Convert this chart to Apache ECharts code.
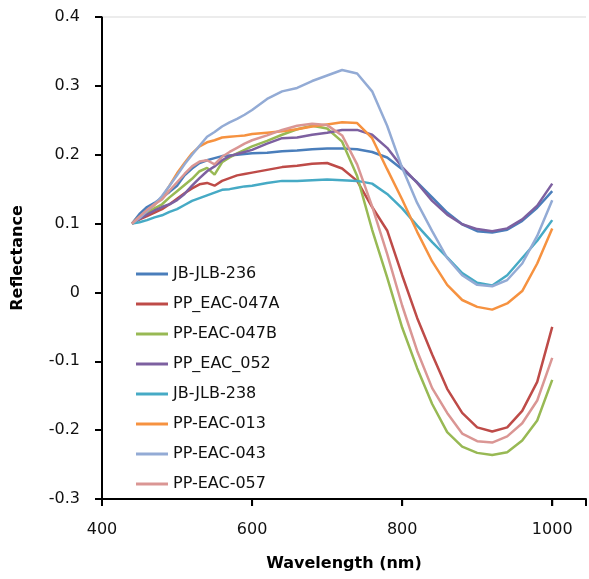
<!DOCTYPE html>
<html>
<head>
<meta charset="utf-8">
<script src="https://cdn.jsdelivr.net/npm/echarts@6/dist/echarts.min.js"></script>
<style>html,body{margin:0;padding:0;background:#fff}#chart{width:589px;height:579px}</style>
</head>
<body>
<div id="chart"></div>
<script>
const wavelength = [440,450,460,470,480,490,500,510,520,530,540,550,560,570,580,590,600,
  620,640,660,680,700,720,740,760,780,800,820,840,860,880,900,920,940,960,980,1000];

const seriesNames = ['JB-JLB-236','PP_EAC-047A','PP-EAC-047B','PP_EAC_052','JB-JLB-238','PP-EAC-013','PP-EAC-043','PP-EAC-057'];

const jbJlb236 = [0.100,0.114,0.124,0.130,0.138,0.146,0.155,0.170,0.180,0.188,0.192,0.195,0.198,0.199,0.200,0.201,0.202,
  0.203,0.205,0.206,0.208,0.209,0.209,0.208,0.204,0.196,0.179,0.160,0.138,0.116,0.099,0.089,0.087,0.091,0.104,0.123,0.147];
const ppEac047A = [0.100,0.106,0.111,0.116,0.121,0.128,0.136,0.144,0.151,0.157,0.159,0.155,0.162,0.166,0.170,0.172,0.174,
  0.178,0.182,0.184,0.187,0.188,0.180,0.162,0.124,0.090,0.025,-0.037,-0.090,-0.140,-0.175,-0.196,-0.202,-0.196,-0.172,-0.130,-0.050];
const ppEac047B = [0.100,0.108,0.115,0.122,0.128,0.138,0.147,0.156,0.165,0.176,0.181,0.171,0.189,0.196,0.202,0.207,0.212,
  0.220,0.229,0.237,0.242,0.238,0.219,0.169,0.091,0.022,-0.051,-0.110,-0.162,-0.203,-0.224,-0.233,-0.236,-0.232,-0.215,-0.186,-0.127];
const ppEac052 = [0.100,0.107,0.113,0.119,0.124,0.128,0.134,0.143,0.155,0.166,0.176,0.183,0.192,0.198,0.201,0.204,0.207,
  0.216,0.224,0.225,0.229,0.232,0.236,0.236,0.229,0.210,0.182,0.159,0.133,0.113,0.099,0.092,0.089,0.093,0.106,0.126,0.158];
const jbJlb238 = [0.100,0.102,0.105,0.109,0.112,0.117,0.121,0.127,0.133,0.137,0.141,0.145,0.149,0.150,0.152,0.154,0.155,
  0.159,0.162,0.162,0.163,0.164,0.163,0.162,0.158,0.143,0.122,0.097,0.073,0.051,0.028,0.014,0.010,0.025,0.050,0.075,0.105];
const ppEac013 = [0.100,0.110,0.118,0.127,0.138,0.155,0.173,0.188,0.202,0.212,0.218,0.221,0.225,0.226,0.227,0.228,0.230,
  0.232,0.234,0.237,0.241,0.244,0.247,0.246,0.224,0.179,0.135,0.088,0.045,0.011,-0.011,-0.021,-0.025,-0.016,0.002,0.042,0.093];
const ppEac043 = [0.100,0.108,0.118,0.128,0.140,0.155,0.170,0.186,0.200,0.213,0.226,0.233,0.241,0.247,0.252,0.258,0.265,
  0.281,0.292,0.297,0.307,0.315,0.323,0.318,0.292,0.242,0.181,0.130,0.089,0.050,0.025,0.011,0.009,0.018,0.042,0.082,0.134];
const ppEac057 = [0.100,0.110,0.120,0.128,0.135,0.148,0.160,0.172,0.183,0.190,0.192,0.186,0.197,0.204,0.210,0.216,0.221,
  0.228,0.236,0.242,0.245,0.243,0.228,0.186,0.125,0.056,-0.019,-0.085,-0.139,-0.175,-0.205,-0.216,-0.218,-0.209,-0.190,-0.157,-0.095];

const xTicks = [400, 600, 800, 1000];
const yTicks = [-0.3, -0.2, -0.1, 0, 0.1, 0.2, 0.3, 0.4];

const seriesValues = [jbJlb236, ppEac047A, ppEac047B, ppEac052, jbJlb238, ppEac013, ppEac043, ppEac057];
const colors = ['#4A7EBB','#BE4B48','#98B954','#7D60A0','#46AAC5','#F69240','#93ABD5','#DA9694'];

const X_MIN = 400, X_MAX = 1045, Y_MIN = -0.3, Y_MAX = 0.4;
const GRID = {left: 102, top: 17, right: 0, bottom: 80};
const W = 589, H = 579;
// tick length of 7 px expressed in each axis's units
const xPerPx = (X_MAX - X_MIN) / (W - GRID.left - GRID.right);
const yPerPx = (Y_MAX - Y_MIN) / (H - GRID.top - GRID.bottom);
const xTickLen = 7 * xPerPx, yTickLen = 7 * yPerPx;

// axis frame built as line series on the chart's own axes
const frameLines = [
  {color: '#d9d9d9', width: 1, data: [[X_MIN, Y_MAX], [X_MAX, Y_MAX]]},
  {color: '#000', width: 2, data: [[X_MIN, Y_MIN], [X_MAX, Y_MIN]]},
  {color: '#000', width: 2, data: [[X_MIN, Y_MIN], [X_MIN, Y_MAX]]}
];
const tickData = [];
yTicks.forEach(t => { tickData.push([X_MIN - xTickLen, t], [X_MIN, t], [X_MIN, null]); });
xTicks.forEach(t => { tickData.push([t, Y_MIN], [t, Y_MIN - yTickLen], [t, null]); });
frameLines.push({color: '#000', width: 2, data: tickData});

const FONT = 'DejaVu Sans';
const chart = echarts.init(document.getElementById('chart'));
const dataSeries = seriesNames.map((n, i) => ({
  name: n, type: 'line', showSymbol: false, z: 3,
  lineStyle: {width: 2.5}, itemStyle: {color: colors[i]},
  data: wavelength.map((w, j) => [w, seriesValues[i][j]])
}));
const frameSeries = frameLines.map((f, k) => ({
  name: 'axis-frame-' + k, type: 'line', silent: true, clip: false, z: 4,
  symbol: 'none', showSymbol: false, connectNulls: false,
  emphasis: {disabled: true}, tooltip: {show: false},
  lineStyle: {width: f.width, color: f.color, cap: 'butt'},
  itemStyle: {color: f.color},
  data: f.data
}));
chart.setOption({
  animation: false,
  grid: Object.assign({containLabel: false}, GRID),
  legend: {
    orient: 'vertical', left: 131, top: 259,
    itemWidth: 32, itemHeight: 3, itemGap: 10, icon: 'rect',
    textStyle: {fontFamily: FONT, fontSize: 16, color: '#111', lineHeight: 20},
    data: seriesNames
  },
  xAxis: {
    type: 'value', min: X_MIN, max: X_MAX, interval: 200,
    name: 'Wavelength (nm)', nameLocation: 'middle', nameGap: 57,
    nameTextStyle: {fontFamily: FONT, fontSize: 16, fontWeight: 'bold', color: '#000'},
    axisLine: {show: true, onZero: false, lineStyle: {color: '#000', width: 2}},
    axisTick: {show: true, length: 7, lineStyle: {color: '#000', width: 2}},
    axisLabel: {fontFamily: FONT, fontSize: 16, color: '#111', margin: 23,
      formatter: v => (v % 200 === 0 ? String(v) : '')},
    splitLine: {show: false}
  },
  yAxis: {
    type: 'value', min: Y_MIN, max: Y_MAX, interval: 0.1,
    name: 'Reflectance', nameLocation: 'middle', nameGap: 76, nameRotate: 90,
    nameTextStyle: {fontFamily: FONT, fontSize: 16, fontWeight: 'bold', color: '#000'},
    axisLine: {show: true, onZero: false, lineStyle: {color: '#000', width: 2}},
    axisTick: {show: true, length: 7, lineStyle: {color: '#000', width: 2}},
    axisLabel: {fontFamily: FONT, fontSize: 16, color: '#111', margin: 22,
      formatter: v => { const r = Math.round(v * 10) / 10; return r === 0 ? '0' : r.toFixed(1); }},
    splitLine: {show: false}
  },
  series: dataSeries.concat(frameSeries)
});
</script>
</body>
</html>
